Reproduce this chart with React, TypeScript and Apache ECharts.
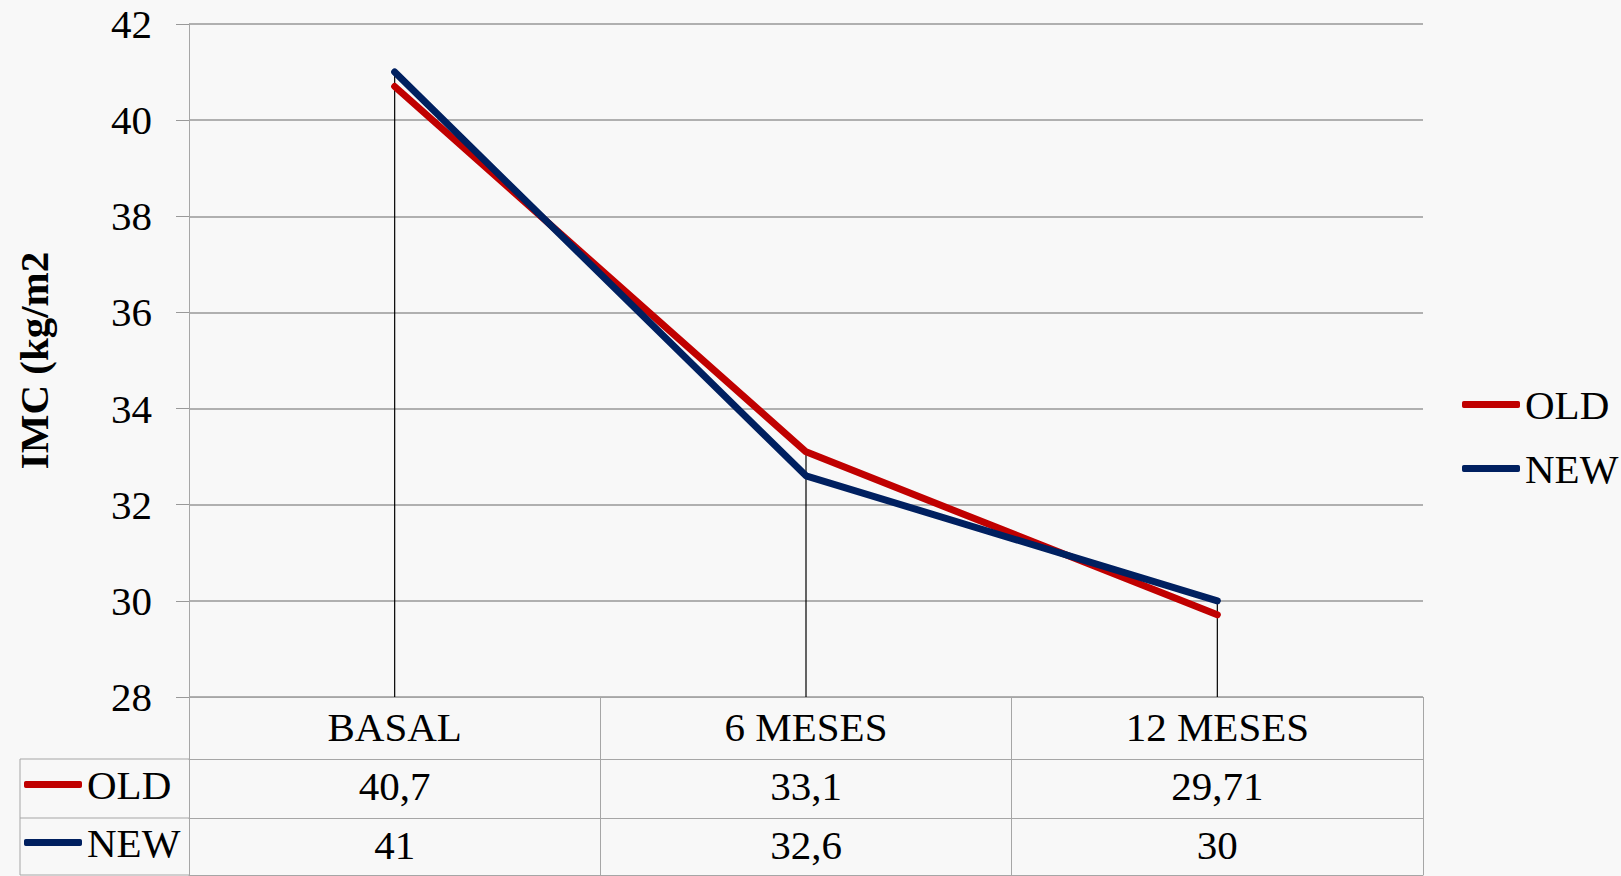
import React, { useEffect, useRef } from 'react';
import * as echarts from 'echarts';

const categories = ['BASAL', '6 MESES', '12 MESES'];
const seriesNames = ['OLD', 'NEW'];
const oldValues = [40.7, 33.1, 29.71];
const newValues = [41, 32.6, 30];
const yMin = 28;
const yMax = 42;
const yInterval = 2;
const yAxisTitle = 'IMC (kg/m2';

const FONT = "'Liberation Serif', 'Times New Roman', serif";
const RED = '#C00000';
const BLUE = '#002060';
const GRID = '#999999';
const TABLE = '#a6a6a6';

const fmt = (v: number) => String(v).replace('.', ',');

export default function App() {
  const ref = useRef<HTMLDivElement>(null);
  useEffect(() => {
    document.body.style.margin = '0';
    const chart = echarts.init(ref.current!, null, { renderer: 'svg' });
    const dropValues = categories.map((_, i) => Math.max(oldValues[i], newValues[i]));
    const tableAxis = (offset: number, tickLen: number, values: number[] | null, margin: number, showLine = true) => ({
      type: 'category',
      data: categories,
      position: 'bottom',
      offset,
      gridIndex: 0,
      boundaryGap: true,
      axisLine: { show: showLine, lineStyle: { color: TABLE, width: 1 } },
      axisTick: { show: tickLen > 0, length: tickLen, lineStyle: { color: TABLE, width: 1 } },
      axisLabel: {
        show: values !== null || offset === 0,
        margin,
        fontFamily: FONT,
        fontSize: 41,
        lineHeight: 41,
        color: '#000',
        formatter: (v: string, i: number) => (values ? fmt(values[i]) : v),
      },
      splitLine: { show: false },
    });
    const legendText = { fontFamily: FONT, fontSize: 41, lineHeight: 41, color: '#000' };
    chart.setOption({
      animation: false,
      backgroundColor: '#f8f8f8',
      grid: { left: 189, right: 198, top: 24, bottom: 179, containLabel: false },
      legend: [
        {
          data: seriesNames,
          orient: 'vertical',
          left: 1462,
          top: 384,
          padding: 0,
          itemGap: 23,
          itemWidth: 58,
          itemHeight: 7,
          icon: 'roundRect',
          textStyle: legendText,
          selectedMode: false,
        },
        {
          data: seriesNames,
          orient: 'vertical',
          left: 24,
          top: 764,
          padding: 0,
          itemGap: 17,
          itemWidth: 58,
          itemHeight: 7,
          icon: 'roundRect',
          textStyle: legendText,
          selectedMode: false,
        },
      ],
      xAxis: [
        tableAxis(0, 62, null, 9),
        tableAxis(62, 59, oldValues, 6),
        tableAxis(121, 57, newValues, 6),
        { ...tableAxis(178, 0, null, 0), axisLabel: { show: false } },
      ],
      yAxis: {
        type: 'value',
        min: yMin,
        max: yMax,
        interval: yInterval,
        name: yAxisTitle,
        nameLocation: 'middle',
        nameGap: 135,
        nameRotate: 90,
        nameTextStyle: { fontFamily: FONT, fontSize: 41, fontWeight: 'bold', color: '#000' },
        axisLine: { show: true, lineStyle: { color: TABLE, width: 1 } },
        axisTick: { show: true, length: 13, lineStyle: { color: GRID } },
        axisLabel: { margin: 37, fontFamily: FONT, fontSize: 41, color: '#000' },
        splitLine: { show: true, lineStyle: { color: GRID, width: 1.5 } },
      },
      graphic: [
        { type: 'line', shape: { x1: 20, y1: 759, x2: 189, y2: 759 }, style: { stroke: TABLE, lineWidth: 1 } },
        { type: 'line', shape: { x1: 20, y1: 818, x2: 189, y2: 818 }, style: { stroke: TABLE, lineWidth: 1 } },
        { type: 'line', shape: { x1: 20, y1: 875, x2: 189, y2: 875 }, style: { stroke: TABLE, lineWidth: 1 } },
        { type: 'line', shape: { x1: 20, y1: 759, x2: 20, y2: 875 }, style: { stroke: TABLE, lineWidth: 1 } },
      ],
      series: [
        {
          name: 'drop',
          type: 'bar',
          data: dropValues,
          barWidth: 1.2,
          itemStyle: { color: '#000' },
          z: 1,
          silent: true,
        },
        {
          name: seriesNames[0],
          type: 'line',
          data: oldValues,
          showSymbol: false,
          symbol: 'none',
          itemStyle: { color: RED },
          lineStyle: { color: RED, width: 7, cap: 'round', join: 'round' },
          z: 3,
        },
        {
          name: seriesNames[1],
          type: 'line',
          data: newValues,
          showSymbol: false,
          symbol: 'none',
          itemStyle: { color: BLUE },
          lineStyle: { color: BLUE, width: 7, cap: 'round', join: 'round' },
          z: 4,
        },
      ],
    });
    return () => chart.dispose();
  }, []);
  return <div ref={ref} style={{ position: 'absolute', left: 0, top: 0, width: 1621, height: 876 }} />;
}
